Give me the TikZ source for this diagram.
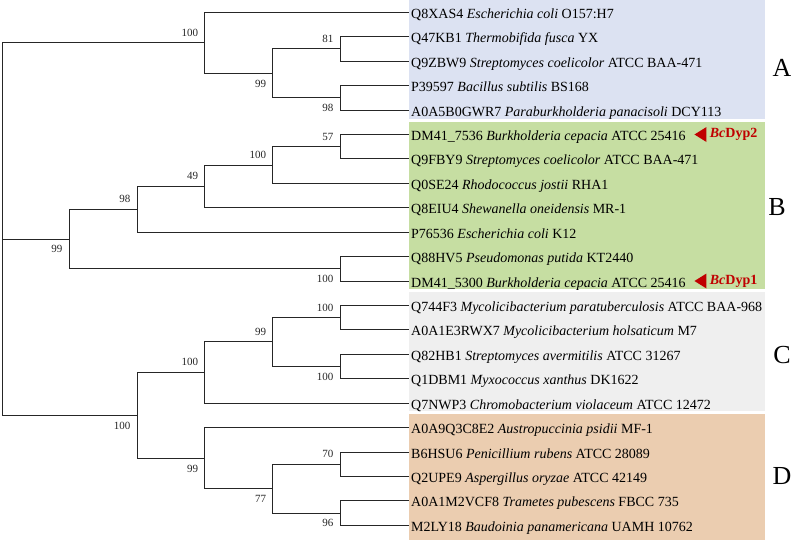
\documentclass[tikz,border=0pt]{standalone}
\usepackage{fontspec}
\setmainfont{Liberation Serif}
\usepackage{xcolor}
\usepackage{tikz}
\usetikzlibrary{shapes.geometric}
\usetikzlibrary{positioning}
\definecolor{cladea}{RGB}{220,226,242}
\definecolor{cladeb}{RGB}{198,222,162}
\definecolor{cladec}{RGB}{239,239,239}
\definecolor{claded}{RGB}{235,205,176}
\definecolor{dypred}{RGB}{192,0,0}

\begin{document}
\begin{tikzpicture}[x=1pt, y=-1pt, label distance=9pt,
        branch/.style={draw=black!85, line width=0.9pt},
        leaf/.style={anchor=west, inner xsep=2pt, inner ysep=0pt, text height=15pt, text depth=3pt, font=\fontsize{14}{16}\selectfont},
        boot/.style={inner sep=0pt, text=black!85, font=\fontsize{11}{13}\selectfont},
        group/.style={inner sep=0pt, font=\fontsize{26}{30}\selectfont},
        pointer/.style={isosceles triangle, isosceles triangle stretches, shape border rotate=180, minimum width=15pt, minimum height=12pt, inner sep=0pt, fill=dypred},
        tag/.style={inner sep=0pt, text=dypred, font=\fontsize{14}{16}\selectfont\bfseries}]
    \useasboundingbox (0,0) rectangle (791,541);

    % clade backgrounds
    \fill[cladea] (409,0) rectangle (765,118.7);
    \fill[cladeb] (409,122) rectangle (765,288.7);
    \fill[cladec] (409,292) rectangle (765,411);
    \fill[claded] (409,414) rectangle (765,539.5);

    \node[group] (grpa) at (782,67.5) {A};
    \node[group] (grpb) at (777,207) {B};
    \node[group] (grpc) at (782,355) {C};
    \node[group] (grpd) at (782,476.5) {D};

    % leaves
    \node[leaf] (q8xas4) at (409,12.3) {Q8XAS4 \textit{Escherichia coli} O157:H7};
    \node[leaf] (q47kb1) at (409,36.7) {Q47KB1 \textit{Thermobifida fusca} YX};
    \node[leaf] (q9zbw9) at (409,61.2) {Q9ZBW9 \textit{Streptomyces coelicolor} ATCC BAA-471};
    \node[leaf] (p39597) at (409,85.6) {P39597 \textit{Bacillus subtilis} BS168};
    \node[leaf] (a0a5b0) at (409,110.0) {A0A5B0GWR7 \textit{Paraburkholderia panacisoli} DCY113};
    \node[leaf] (dm7536) at (409,134.5) {DM41\_7536 \textit{Burkholderia cepacia} ATCC 25416};
    \node[leaf] (q9fby9) at (409,158.9) {Q9FBY9 \textit{Streptomyces coelicolor} ATCC BAA-471};
    \node[leaf] (q0se24) at (409,183.3) {Q0SE24 \textit{Rhodococcus jostii} RHA1};
    \node[leaf] (q8eiu4) at (409,207.7) {Q8EIU4 \textit{Shewanella oneidensis} MR-1};
    \node[leaf] (p76536) at (409,232.2) {P76536 \textit{Escherichia coli} K12};
    \node[leaf] (q88hv5) at (409,256.6) {Q88HV5 \textit{Pseudomonas putida} KT2440};
    \node[leaf] (dm5300) at (409,281.0) {DM41\_5300 \textit{Burkholderia cepacia} ATCC 25416};
    \node[leaf] (q744f3) at (409,305.5) {Q744F3 \textit{Mycolicibacterium paratuberculosis} ATCC BAA-968};
    \node[leaf] (a0a1e3) at (409,329.9) {A0A1E3RWX7 \textit{Mycolicibacterium holsaticum} M7};
    \node[leaf] (q82hb1) at (409,354.3) {Q82HB1 \textit{Streptomyces avermitilis} ATCC 31267};
    \node[leaf] (q1dbm1) at (409,378.8) {Q1DBM1 \textit{Myxococcus xanthus} DK1622};
    \node[leaf] (q7nwp3) at (409,403.2) {Q7NWP3 \textit{Chromobacterium violaceum} ATCC 12472};
    \node[leaf] (a0a9q3) at (409,427.6) {A0A9Q3C8E2 \textit{Austropuccinia psidii} MF-1};
    \node[leaf] (b6hsu6) at (409,452.0) {B6HSU6 \textit{Penicillium rubens} ATCC 28089};
    \node[leaf] (q2upe9) at (409,476.5) {Q2UPE9 \textit{Aspergillus oryzae} ATCC 42149};
    \node[leaf] (a0a1m2) at (409,500.9) {A0A1M2VCF8 \textit{Trametes pubescens} FBCC 735};
    \node[leaf] (m2ly18) at (409,525.3) {M2LY18 \textit{Baudoinia panamericana} UAMH 10762};

    \node[pointer, right=6pt of dm7536] (ptr2) {};
    \node[tag, right=3pt of ptr2] (dyp2) {\textit{Bc}Dyp2};
    \node[pointer, right=6pt of dm5300] (ptr1) {};
    \node[tag, right=3pt of ptr1] (dyp1) {\textit{Bc}Dyp1};

    % forks with bootstrap values
    \coordinate (root) at (2,229);
    \coordinate[label={[boot]above left:100}] (a) at (204.7,42.8);
    \coordinate[label={[boot]below left:99}] (a1) at (272.7,73.3);
    \coordinate[label={[boot]above left:81}] (a2) at (340,48.9);
    \coordinate[label={[boot]below left:98}] (a3) at (340,97.8);
    \coordinate[label={[boot]below left:99}] (b) at (69,239);
    \coordinate[label={[boot]above left:98}] (b1) at (137,209.3);
    \coordinate[label={[boot]above left:49}] (b2) at (204.7,186.3);
    \coordinate[label={[boot]above left:100}] (b3) at (272.7,165);
    \coordinate[label={[boot]above left:57}] (b4) at (340,146.7);
    \coordinate[label={[boot]below left:100}] (b5) at (340,268.8);
    \coordinate[label={[boot]below left:100}] (cd) at (137,415.3);
    \coordinate[label={[boot]above left:100}] (c) at (204.7,372.5);
    \coordinate[label={[boot]above left:99}] (c1) at (272.7,341.7);
    \coordinate[label={[boot]above left:100}] (c2) at (340,317.7);
    \coordinate[label={[boot]below left:100}] (c3) at (340,366.5);
    \coordinate[label={[boot]below left:99}] (d) at (204.7,458.2);
    \coordinate[label={[boot]below left:77}] (d1) at (272.7,488.7);
    \coordinate[label={[boot]above left:70}] (d2) at (340,464.2);
    \coordinate[label={[boot]below left:96}] (d3) at (340,513.1);

    % branches
    \draw[branch] (root) |- (a) (root) |- (b) (root) |- (cd);
    \draw[branch] (a) |- (q8xas4.west) (a) |- (a1)
        (a1) |- (a2) (a1) |- (a3)
        (a2) |- (q47kb1.west) (a2) |- (q9zbw9.west)
        (a3) |- (p39597.west) (a3) |- (a0a5b0.west);
    \draw[branch] (b) |- (b1) (b) |- (b5)
        (b1) |- (b2) (b1) |- (p76536.west)
        (b2) |- (b3) (b2) |- (q8eiu4.west)
        (b3) |- (b4) (b3) |- (q0se24.west)
        (b4) |- (dm7536.west) (b4) |- (q9fby9.west)
        (b5) |- (q88hv5.west) (b5) |- (dm5300.west);
    \draw[branch] (cd) |- (c) (cd) |- (d)
        (c) |- (c1) (c) |- (q7nwp3.west)
        (c1) |- (c2) (c1) |- (c3)
        (c2) |- (q744f3.west) (c2) |- (a0a1e3.west)
        (c3) |- (q82hb1.west) (c3) |- (q1dbm1.west);
    \draw[branch] (d) |- (a0a9q3.west) (d) |- (d1)
        (d1) |- (d2) (d1) |- (d3)
        (d2) |- (b6hsu6.west) (d2) |- (q2upe9.west)
        (d3) |- (a0a1m2.west) (d3) |- (m2ly18.west);
\end{tikzpicture}
\end{document}
